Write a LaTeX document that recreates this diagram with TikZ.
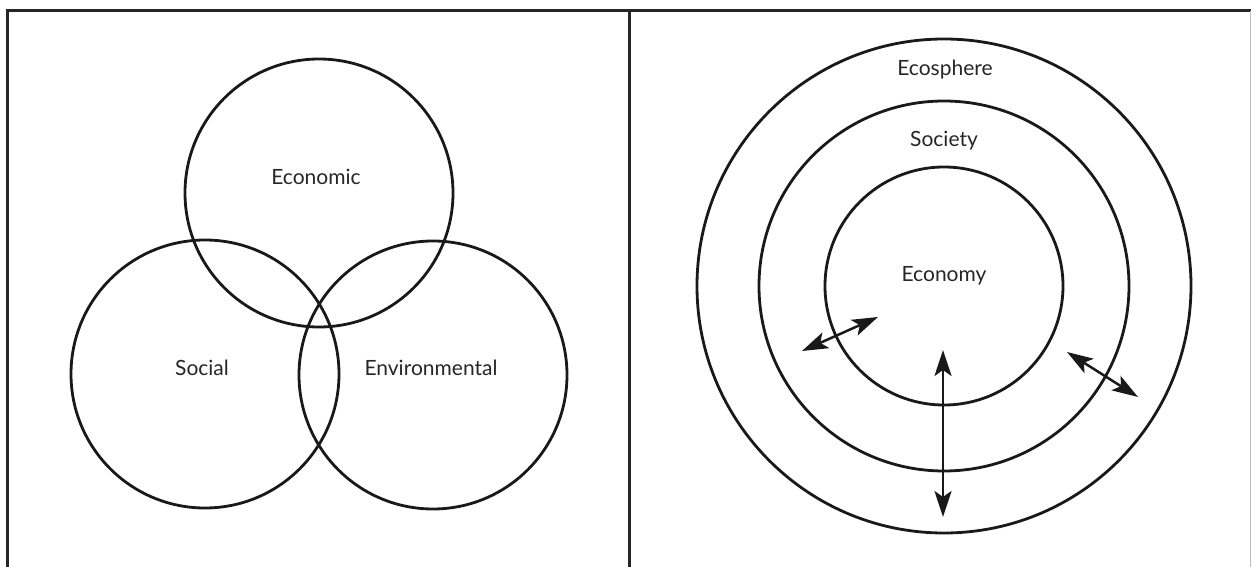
\documentclass[tikz,border=0pt]{standalone}
\usepackage{fontspec}
\setmainfont{Lato}
\usetikzlibrary{arrows.meta}
\begin{document}
\begin{tikzpicture}[x=1pt,y=-1pt,
  ring/.style={draw=black!90,line width=2.8pt},
  frameline/.style={draw=black!85,line width=3pt},
  lbl/.style={font=\fontsize{21}{24}\selectfont,text=black!85,inner sep=0pt},
  tipx/.style={},
  dbl/.style={line width=2.5pt,draw=black!90,{Stealth[length=26pt,width=17pt,inset=6pt]}-{Stealth[length=26pt,width=17pt,inset=6pt]}}]
\useasboundingbox (0,0) rectangle (1251,567);
% frame
\coordinate (tl) at (7,11);
\coordinate (tr) at (1251,11);
\coordinate (bl) at (7,567);
\coordinate (mt) at (629,11);
\coordinate (mb) at (629,567);
\draw[frameline] (bl) -- (tl) -- (tr);
\draw[frameline] (mt) -- (mb);
\draw[draw=black!25,line width=1pt] (1250.5,11) -- (1250.5,567);
% Venn
\node[ring,circle,minimum size=268pt,inner sep=0pt] (econ) at (319,193) {};
\node[ring,circle,minimum size=268pt,inner sep=0pt] (soc) at (205,374) {};
\node[ring,circle,minimum size=268pt,inner sep=0pt] (env) at (433,375) {};
\node[lbl] (teco) at (316,177) {Economic};
\node[lbl] (tsoc) at (202,368) {Social};
\node[lbl] (tenv) at (431,368) {Environmental};
% Concentric
\node[ring,circle,minimum size=494pt,inner sep=0pt] (eco) at (944,286) {};
\node[ring,circle,minimum size=370pt,inner sep=0pt] (socy) at (944,286) {};
\node[ring,circle,minimum size=238pt,inner sep=0pt] (ecy) at (944,286) {};
\node[lbl] (tecs) at (945,70) {Ecosphere};
\node[lbl] (tsocy) at (944,141) {Society};
\node[lbl] (tecy) at (944,276) {Economy};
% arrows
\coordinate (a1) at (802,351);
\coordinate (a2) at (878,317);
\coordinate (b1) at (943,350);
\coordinate (b2) at (943,517);
\coordinate (c1) at (1067,352);
\coordinate (c2) at (1138,397);
\draw[dbl] (a1) -- (a2);
\draw[dbl] (b1) -- (b2);
\draw[dbl] (c1) -- (c2);
\end{tikzpicture}
\end{document}
